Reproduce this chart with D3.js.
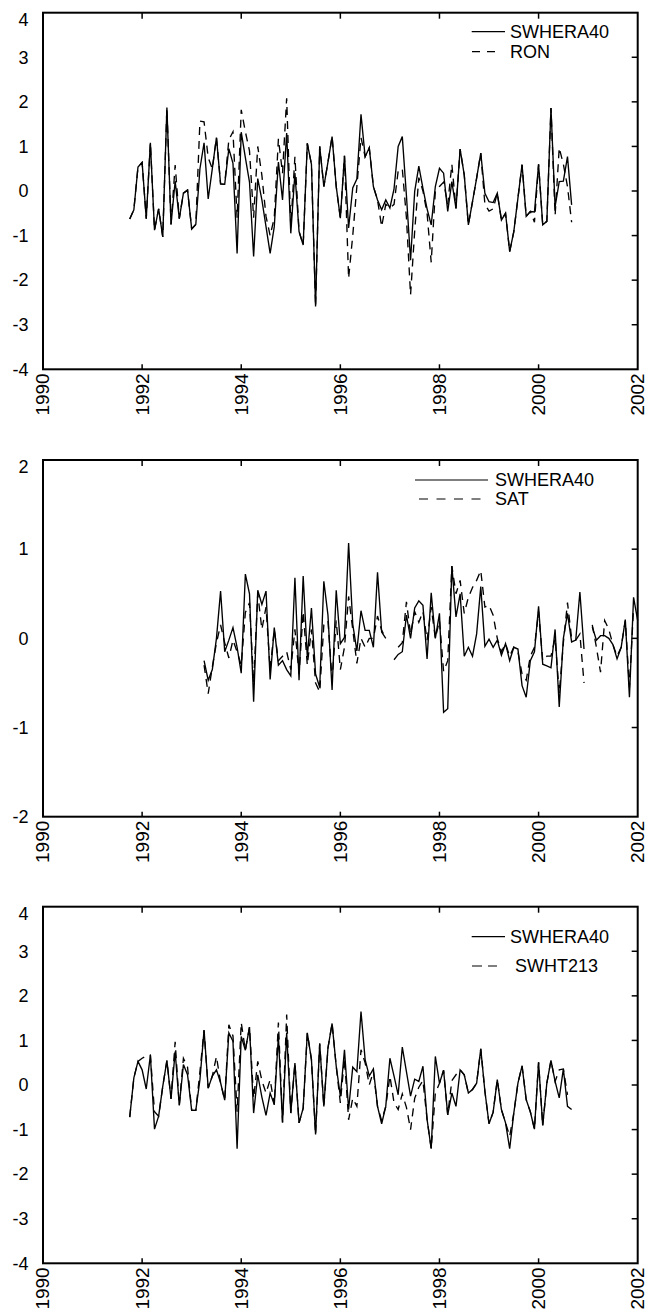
<!DOCTYPE html>
<html><head><meta charset="utf-8">
<script src="https://cdn.jsdelivr.net/npm/d3@7"></script>
<style>
body{margin:0;background:#fff}
svg{display:block}
text{font-family:"Liberation Sans",Arial,Helvetica,sans-serif;fill:#000}
</style>
</head><body>
<svg id="chart" width="647" height="1314"></svg>
<script>
// ---------- data ----------
const xTickYears = [1990,1992,1994,1996,1998,2000,2002];
const yTicksA = [-4,-3,-2,-1,0,1,2,3,4];
const yTicksB = [-2,-1,0,1,2];

// Panel 1: monthly from 1991.75
const p1Start = 1991.75;
const p1Era40 = [-0.63,-0.42,0.54,0.64,-0.62,1.08,-0.88,-0.40,-1.03,1.87,
 -0.75,0.22,-0.62,-0.05,0.02,-0.85,-0.75,0.50,1.08,-0.18,
 0.50,1.20,0.16,0.15,0.95,0.62,-1.40,1.32,0.75,0.20,
 -1.47,0.28,-0.20,-0.80,-1.40,-0.80,0.65,-0.20,1.30,-0.95,
 0.40,-0.91,-1.21,1.07,0.60,-2.59,1.00,0.10,0.65,1.22,
 0.10,-0.61,0.79,-0.83,0.07,0.27,1.72,0.77,0.97,0.10,
 -0.20,-0.42,-0.20,-0.38,0.05,1.00,1.22,-0.10,-1.55,-0.01,
 0.56,0.06,-0.40,-0.76,0.10,0.51,0.40,-0.46,0.21,-0.39,
 0.94,0.36,-0.76,-0.24,0.29,0.85,-0.05,-0.24,-0.26,-0.05,
 -0.65,-0.50,-1.36,-0.91,-0.16,0.59,-0.57,-0.46,-0.47,0.60,
 -0.76,-0.68,1.86,-0.35,0.21,0.22,0.77,-0.31];
const p1Ron = [-0.63,-0.42,0.54,0.64,-0.62,1.08,-0.88,-0.40,-1.03,1.87,
 -0.75,0.58,-0.62,-0.05,0.02,-0.85,-0.75,1.57,1.55,0.75,
 0.50,1.20,0.16,0.15,1.15,1.33,-0.60,1.82,1.33,0.90,
 -0.60,1.00,0.35,-0.57,-1.00,-0.60,1.17,0.40,2.08,-0.80,
 0.77,-0.91,-1.21,1.07,0.60,-2.59,1.00,0.10,0.65,1.22,
 0.10,-0.61,0.79,-1.96,-1.00,0.10,1.20,0.77,0.97,0.10,
 -0.20,-0.80,-0.30,-0.38,-0.30,0.45,0.50,-0.60,-2.33,-0.90,
 0.30,0.00,-0.50,-1.60,0.00,0.10,0.20,-0.30,0.60,-0.39,
 0.94,0.36,-0.76,-0.24,0.29,0.85,-0.30,-0.45,-0.40,-0.05,
 -0.65,-0.50,-1.36,-0.91,-0.16,0.59,-0.57,-0.46,-0.70,0.60,
 -0.76,-0.68,1.86,-0.55,0.97,0.60,0.10,-0.70];

// Panel 2: monthly from 1993.25
const p2Start = 1993.25;
const p2Era40 = [-0.25,-0.47,-0.35,0.00,0.53,-0.15,-0.02,0.12,-0.10,-0.39,
 0.72,0.50,-0.71,0.54,0.38,0.53,-0.46,0.12,-0.30,-0.25,
 -0.35,-0.42,0.68,-0.47,0.70,-0.21,0.34,-0.40,-0.55,0.64,
 0.26,-0.58,0.54,-0.06,0.01,1.07,0.16,-0.14,0.31,0.09,
 0.09,-0.10,0.74,0.07,0.00,null,-0.24,-0.18,-0.15,0.26,
 0.00,0.34,0.42,0.37,-0.23,0.51,0.00,0.28,-0.83,-0.79,
 0.81,0.24,0.50,-0.20,-0.10,-0.20,0.05,0.58,-0.09,-0.01,
 -0.10,-0.02,-0.19,-0.06,-0.25,-0.10,-0.12,-0.53,-0.66,-0.25,
 -0.15,0.36,-0.29,-0.31,-0.33,0.10,-0.77,0.00,0.28,-0.04,
 -0.02,0.52,-0.12,null,0.13,-0.02,0.03,0.03,0.00,-0.07,
 -0.23,-0.10,0.21,-0.66,0.46,0.20];
const p2Sat = [-0.30,-0.62,-0.32,-0.05,0.15,-0.05,-0.22,-0.02,-0.15,-0.30,
 0.29,0.40,-0.50,0.50,0.10,0.35,-0.35,0.10,-0.25,-0.20,
 -0.15,-0.35,0.10,-0.40,0.30,-0.30,0.10,-0.50,-0.60,0.15,
 0.20,-0.47,0.20,-0.35,-0.10,0.47,0.10,-0.28,0.00,-0.10,
 0.00,0.00,0.25,0.09,0.00,null,null,-0.10,-0.05,0.41,
 0.05,0.30,0.18,0.30,-0.02,0.35,0.00,0.20,-0.37,-0.25,
 0.81,0.50,0.65,0.28,0.46,0.57,0.65,0.76,0.35,0.37,
 0.26,0.00,-0.15,-0.06,-0.20,-0.10,-0.15,-0.40,-0.47,-0.20,
 -0.10,0.30,-0.25,-0.20,-0.20,0.00,-0.62,-0.05,0.40,0.00,
 -0.02,0.05,-0.50,null,0.15,-0.10,-0.38,0.20,0.10,-0.07,
 -0.20,-0.10,0.20,-0.55,0.35,null];

// Panel 3: monthly from 1991.75
const p3Start = 1991.75;
const p3Era40 = [-0.72,0.16,0.53,0.34,-0.09,0.67,-0.99,-0.70,-0.03,0.55,
 -0.31,0.75,-0.46,0.46,0.23,-0.57,-0.57,0.12,1.23,-0.07,
 0.20,0.34,0.05,-0.34,1.17,0.98,-1.43,1.09,0.78,1.30,
 -0.63,0.23,-0.27,-0.68,-0.18,-0.44,1.09,-0.84,1.17,-0.63,
 0.49,-0.85,-0.52,1.17,0.57,-1.11,0.93,-0.48,0.83,1.38,
 0.42,-0.25,0.79,-0.55,0.40,0.30,1.65,0.57,0.20,0.36,
 -0.48,-0.87,-0.48,0.60,0.20,-0.22,0.85,0.30,-0.25,0.13,
 0.08,0.42,-0.77,-1.43,0.64,0.04,0.33,-0.67,-0.18,-0.48,
 0.34,0.23,-0.18,-0.10,0.04,0.81,-0.14,-0.87,-0.61,0.12,
 -0.55,-0.85,-1.43,-0.63,0.04,0.43,-0.33,-0.60,-0.99,0.51,
 -0.91,0.04,0.55,0.08,-0.29,0.36,-0.48,-0.55];
const p3Swht = [-0.72,0.16,0.53,0.60,0.65,0.67,-0.60,-0.70,-0.03,0.55,
 -0.31,0.97,-0.46,0.60,0.40,-0.57,-0.57,0.30,1.23,-0.07,
 0.20,0.64,0.05,-0.34,1.35,1.10,-0.60,1.40,0.78,1.30,
 -0.30,0.53,0.10,-0.18,0.12,-0.44,1.40,-0.84,1.58,-0.63,
 0.49,-0.85,-0.52,1.17,0.57,-1.11,0.93,-0.48,0.83,1.38,
 0.42,-0.40,0.60,-0.78,-0.30,-0.48,0.79,0.50,0.00,0.30,
 -0.48,-0.80,-0.48,0.20,-0.40,-0.55,-0.20,-0.50,-1.00,-0.30,
 -0.05,0.10,-0.77,-1.43,-0.18,0.04,0.33,-0.67,0.10,0.23,
 0.34,0.23,-0.18,-0.10,0.04,0.81,-0.14,-0.87,-0.61,0.12,
 -0.55,-0.85,-1.15,-0.63,0.04,0.43,-0.33,-0.60,-0.99,0.51,
 -0.91,0.04,0.55,0.08,0.34,0.36,-0.22,null];

const seriesNames = ["SWHERA40","RON","SAT","SWHT213"];

// ---------- layout ----------
const svg = d3.select("#chart");
const X0 = 43, X1 = 637.7;
const x = d3.scaleLinear().domain([1990, 2002]).range([X0, X1]);

const panels = [
  {top:12.7, bottom:369.3, yTicks:yTicksA, start:p1Start,
   solid:p1Era40, dashed:p1Ron, solidName:seriesNames[0], dashedName:seriesNames[1],
   leg:{sx1:471.7, sx2:505, sy:31.7, dx1:472, dx2:498, dy:51.7, dash:"8,7", tx1:510, tx2:510}},
  {top:460, bottom:816.7, yTicks:yTicksB, start:p2Start,
   solid:p2Era40, dashed:p2Sat, solidName:seriesNames[0], dashedName:seriesNames[2],
   leg:{sx1:415, sx2:488, sy:480, dx1:419, dx2:481, dy:499, dash:"9,8.5", tx1:495, tx2:495}},
  {top:906.7, bottom:1263.3, yTicks:yTicksA, start:p3Start,
   solid:p3Era40, dashed:p3Swht, solidName:seriesNames[0], dashedName:seriesNames[3],
   leg:{sx1:471.7, sx2:505, sy:936.7, dx1:472, dx2:497, dy:966, dash:"10,6", tx1:510, tx2:515}}
];

panels.forEach(p => {
  const yMin = d3.min(p.yTicks), yMax = d3.max(p.yTicks);
  const y = d3.scaleLinear().domain([yMin, yMax]).range([p.bottom, p.top]);
  const g = svg.append("g");

  const toPts = (arr) => arr.map((v, i) => ({t: p.start + i / 12, v: v}));
  const line = d3.line()
    .defined(d => d.v !== null)
    .x(d => x(d.t))
    .y(d => y(d.v));

  // dashed series
  g.append("path").datum(toPts(p.dashed))
    .attr("d", line).attr("fill", "none").attr("stroke", "#000")
    .attr("stroke-width", 1.35).attr("stroke-dasharray", "8,6");
  // solid series
  g.append("path").datum(toPts(p.solid))
    .attr("d", line).attr("fill", "none").attr("stroke", "#000")
    .attr("stroke-width", 1.35);

  // box
  g.append("rect").attr("x", X0).attr("y", p.top)
    .attr("width", X1 - X0).attr("height", p.bottom - p.top)
    .attr("fill", "none").attr("stroke", "#000").attr("stroke-width", 2);

  // inner ticks (top, bottom, right)
  const inner = xTickYears.slice(1, -1);
  inner.forEach(t => {
    g.append("line").attr("x1", x(t)).attr("x2", x(t))
      .attr("y1", p.top).attr("y2", p.top + 6).attr("stroke", "#000").attr("stroke-width", 1.5);
    g.append("line").attr("x1", x(t)).attr("x2", x(t))
      .attr("y1", p.bottom).attr("y2", p.bottom - 5).attr("stroke", "#000").attr("stroke-width", 1.5);
  });
  p.yTicks.slice(1, -1).forEach(v => {
    g.append("line").attr("x1", X1).attr("x2", X1 - 6)
      .attr("y1", y(v)).attr("y2", y(v)).attr("stroke", "#000").attr("stroke-width", 1.5);
  });

  // y tick labels
  p.yTicks.forEach(v => {
    const off = v === yMax ? 7 : 0;
    g.append("text").attr("x", 28.5).attr("y", y(v) + off)
      .attr("dy", "0.35em").attr("text-anchor", "end")
      .attr("font-size", 18).text(String(v));
  });

  // x tick labels (rotated)
  xTickYears.forEach(t => {
    g.append("text")
      .attr("transform", `translate(${x(t)},${p.bottom + 4}) rotate(-90)`)
      .attr("dy", "0.34em").attr("text-anchor", "end")
      .attr("font-size", 19).text(t);
  });

  // legend
  const L = p.leg;
  g.append("line").attr("x1", L.sx1).attr("x2", L.sx2).attr("y1", L.sy).attr("y2", L.sy)
    .attr("stroke", "#000").attr("stroke-width", 1.2);
  g.append("line").attr("x1", L.dx1).attr("x2", L.dx2).attr("y1", L.dy).attr("y2", L.dy)
    .attr("stroke", "#000").attr("stroke-width", 1.2).attr("stroke-dasharray", L.dash);
  g.append("text").attr("x", L.tx1).attr("y", L.sy).attr("dy", "0.35em")
    .attr("font-size", 18).text(p.solidName);
  g.append("text").attr("x", L.tx2).attr("y", L.dy).attr("dy", "0.35em")
    .attr("font-size", 18).text(p.dashedName);
});
</script>
</body></html>
